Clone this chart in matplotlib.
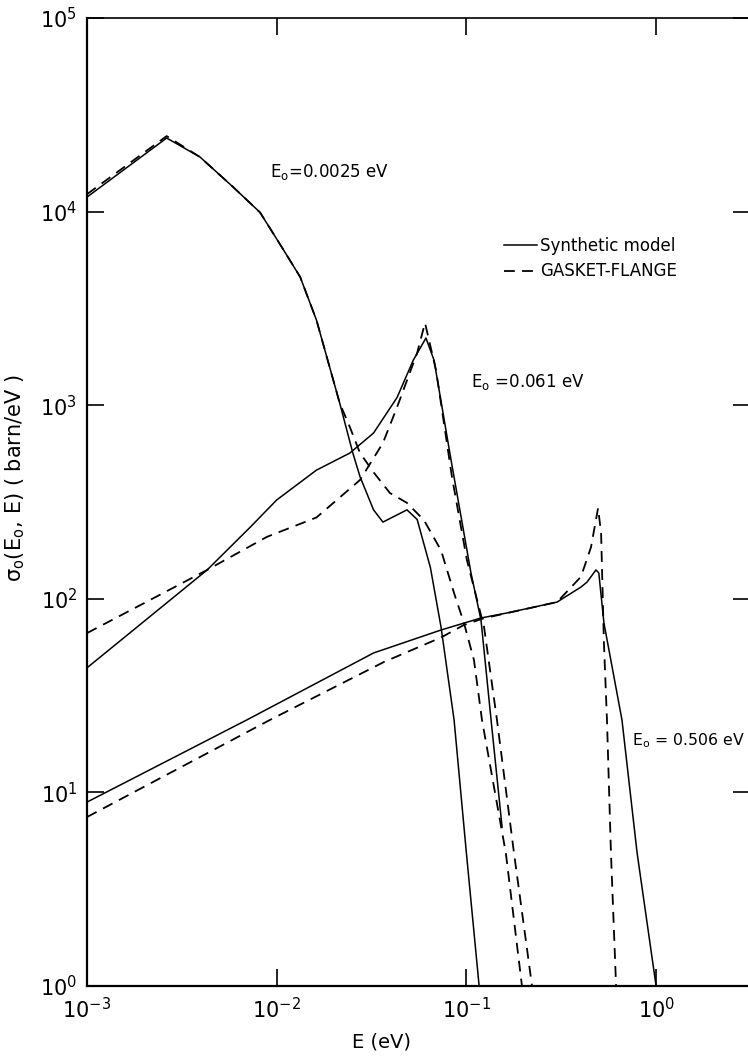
import numpy as np
import matplotlib
matplotlib.use('Agg')
import matplotlib.pyplot as plt
from matplotlib.ticker import NullLocator

plt.rcParams['font.family'] = ['DejaVu Sans']
plt.rcParams['mathtext.default'] = 'regular'

# E0 = 0.0025 eV
e_0025_syn = [0.001, 0.00263, 0.00394, 0.00589, 0.00817, 0.0108, 0.0133, 0.0162, 0.0215, 0.0252,
              0.0275, 0.0324, 0.0363, 0.0486, 0.0550, 0.0646, 0.0735, 0.0861, 0.1, 0.1167]
s_0025_syn = [11885, 23990, 19140, 13400, 9900, 6400, 4592, 2754, 1023, 566,
              427, 288, 249, 288, 257, 145, 71.4, 23.7, 4.86, 1.0]
e_0025_gf = [0.001, 0.00263, 0.00394, 0.00589, 0.00817, 0.0108, 0.0133, 0.0162, 0.0215, 0.0243,
             0.0275, 0.0326, 0.0395, 0.0486, 0.0597, 0.0735, 0.0861, 0.0971, 0.1096, 0.1208,
             0.1614, 0.1963]
s_0025_gf = [12300, 24550, 19140, 13400, 9900, 6400, 4592, 2754, 1023, 771,
             566, 447, 352, 313, 255, 178, 107, 75.0, 48.3, 23.7,
             4.86, 1.0]

# E0 = 0.061 eV
e_061_syn = [0.001, 0.00430, 0.00724, 0.01, 0.0162, 0.0243, 0.0324, 0.0431, 0.0525, 0.0612,
             0.0675, 0.0830, 0.1057, 0.1194, 0.1349, 0.1542]
s_061_syn = [44.0, 141, 234, 324, 462, 566, 718, 1096, 1710, 2223,
             1710, 521, 136, 77.6, 23.7, 6.62]
e_061_gf = [0.001, 0.00215, 0.00430, 0.00889, 0.0162, 0.0275, 0.0363, 0.0431, 0.0550, 0.0605,
            0.0692, 0.0839, 0.1007, 0.1239, 0.1449, 0.1782, 0.2218]
s_061_gf = [66.5, 98.6, 141, 209, 263, 411, 638, 977, 1862, 2661,
            1514, 427, 158, 71.4, 23.7, 4.86, 1.0]

# E0 = 0.506 eV
e_506_syn = [0.001, 0.00697, 0.0324, 0.0735, 0.1194, 0.1637, 0.3006, 0.4018, 0.4325, 0.4819,
             0.4989, 0.5309, 0.6607, 0.7943, 1.0]
s_506_syn = [8.91, 23.7, 52.5, 69.0, 79.6, 84.5, 96.2, 115, 122, 141,
             136, 75.0, 23.7, 4.86, 1.0]
e_506_gf = [0.001, 0.00923, 0.0368, 0.0735, 0.0971, 0.1239, 0.3006, 0.4018, 0.4539, 0.4943,
            0.5129, 0.5309, 0.5508, 0.5781, 0.6152]
s_506_gf = [7.46, 23.7, 47.2, 63.1, 73.3, 79.4, 96.2, 130, 185, 294,
            219, 58.9, 23.7, 4.86, 1.0]

fig = plt.figure(figsize=(7.48, 10.58), dpi=100)
W, H = 748, 1058
ax = fig.add_axes([87 / W, (H - 986) / H, (750 - 87) / W, (986 - 18) / H])

solid = dict(color='black', lw=1.1, ls='-')
dashed = dict(color='black', lw=1.3, ls=(0, (6, 4)))

l1, = ax.plot(e_0025_syn, s_0025_syn, **solid)
l2, = ax.plot(e_0025_gf, s_0025_gf, **dashed)
ax.plot(e_061_syn, s_061_syn, **solid)
ax.plot(e_061_gf, s_061_gf, **dashed)
ax.plot(e_506_syn, s_506_syn, **solid)
ax.plot(e_506_gf, s_506_gf, **dashed)

ax.set_xscale('log')
ax.set_yscale('log')
ax.set_xlim(1e-3, 10 ** 0.495)
ax.set_ylim(1, 1e5)
ax.xaxis.set_minor_locator(NullLocator())
ax.yaxis.set_minor_locator(NullLocator())
ax.set_xticks([1e-3, 1e-2, 1e-1, 1e0])
ax.set_yticks([1e0, 1e1, 1e2, 1e3, 1e4, 1e5])

ax.tick_params(which='major', direction='in', length=12, width=1.2,
               top=True, right=True, labelsize=15, colors='black')
ax.tick_params(axis='y', pad=7)
ax.tick_params(axis='x', pad=8)
for side in ['left', 'bottom']:
    ax.spines[side].set_linewidth(1.6)
ax.spines['top'].set_linewidth(1.2)

ax.set_xlabel('E (eV)', fontsize=14)
ax.xaxis.set_label_coords((382 - 87) / (750 - 87), -0.048)
ax.set_ylabel(r'$\sigma_o(E_o,\, E)$ ( barn/eV )', fontsize=15)
ax.yaxis.set_label_coords((27 - 87) / (750 - 87), (986 - 478) / (986 - 18))

fig.text(270 / W, 1 - 177 / H, r'E$_o$=0.0025 eV', fontsize=12, va='baseline')
fig.text(471 / W, 1 - 387 / H, r'E$_o$ =0.061 eV', fontsize=12, va='baseline')
fig.text(632 / W, 1 - 745 / H, r'E$_o$ = 0.506 eV', fontsize=11.3, va='baseline')

ax.legend([l1, l2], ['Synthetic model', 'GASKET-FLANGE'], loc='upper left',
          bbox_to_anchor=(504 / W, 1 - 237 / H), bbox_transform=fig.transFigure,
          frameon=False, fontsize=12, handlelength=2.0, handletextpad=0.15,
          labelspacing=0.45, borderpad=0, borderaxespad=0)

fig.savefig('out.png', dpi=100)
